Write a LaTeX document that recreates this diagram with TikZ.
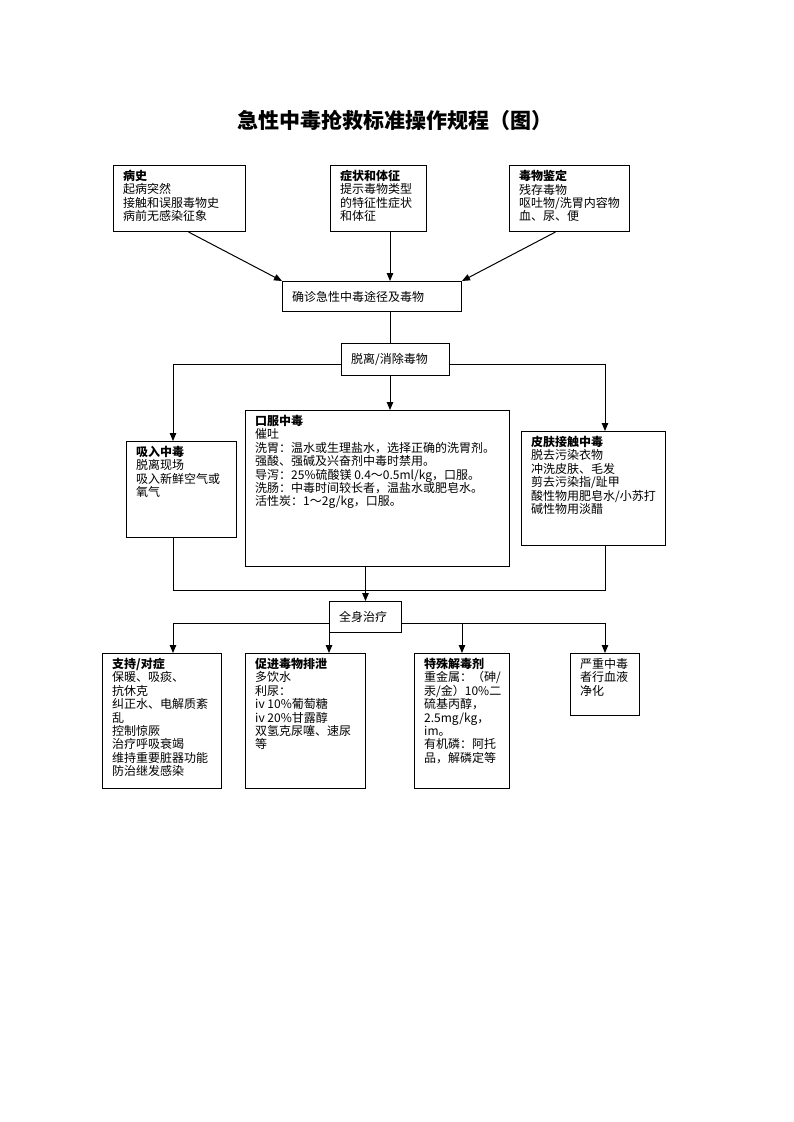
\documentclass[tikz,border=0pt]{standalone}
\usepackage{fontspec}
\setmainfont{Noto Sans CJK SC}
\usetikzlibrary{arrows.meta}

\begin{document}
\begin{tikzpicture}[x=1pt,y=-1pt]
    \tikzset{box/.style = {draw,line width=1pt,anchor=north west,inner sep=0pt},
             txt/.style = {anchor=north west,align=left,inner xsep=10pt,inner ysep=5pt,
                           font=\fontsize{12}{13.4}\selectfont},
             arr/.style = {line width=1pt,-{Triangle[length=8pt,width=6.5pt]}},
             wire/.style = {line width=1pt}}
    \useasboundingbox (0,0) rectangle (793,1122);

    % Title
    \node[font=\fontsize{21}{25}\selectfont\bfseries] (title) at (395,120)
        {急性中毒抢救标准操作规程（图）};

    % Diagnosis boxes
    \node[box,minimum width=132,minimum height=66,
          label={[txt,name=bingshi-t]north west:\textbf{病史}\\起病突然\\接触和误服毒物史\\病前无感染征象}]
        (bingshi) at (113,165) {};
    \node[box,minimum width=96,minimum height=66,
          label={[txt,name=zhengzhuang-t]north west:\textbf{症状和体征}\\提示毒物类型\\的特征性症状\\和体征}]
        (zhengzhuang) at (330,165) {};
    \node[box,minimum width=120,minimum height=66,
          label={[txt,name=jianding-t]north west:\textbf{毒物鉴定}\\残存毒物\\呕吐物/洗胃内容物\\血、尿、便}]
        (jianding) at (509,165) {};
    \node[box,minimum width=179,minimum height=30,
          label={[txt,anchor=west,name=quezhen-t]west:确诊急性中毒途径及毒物}]
        (quezhen) at (282,281) {};
    \node[box,minimum width=108,minimum height=32,
          label={[txt,anchor=west,name=tuoli-t]west:脱离/消除毒物}]
        (tuoli) at (341,343) {};

    % Routes of poisoning
    \node[box,minimum width=110,minimum height=96,
          label={[txt,name=xiru-t]north west:\textbf{吸入中毒}\\脱离现场\\吸入新鲜空气或\\氧气}]
        (xiru) at (126,441) {};
    \node[box,minimum width=264,minimum height=156,
          label={[txt,name=koufu-t]north west:\textbf{口服中毒}\\催吐\\洗胃：温水或生理盐水，选择正确的洗胃剂。\\强酸、强碱及兴奋剂中毒时禁用。\\导泻：25\%硫酸镁 0.4～0.5ml/kg，口服。\\洗肠：中毒时间较长者，温盐水或肥皂水。\\活性炭：1～2g/kg，口服。}]
        (koufu) at (245,410) {};
    \node[box,minimum width=144,minimum height=114,
          label={[txt,name=pifu-t]north west:\textbf{皮肤接触中毒}\\脱去污染衣物\\冲洗皮肤、毛发\\剪去污染指/趾甲\\酸性物用肥皂水/小苏打\\碱性物用淡醋}]
        (pifu) at (521,431) {};

    % Systemic treatment
    \node[box,minimum width=72,minimum height=31,
          label={[txt,anchor=west,name=quanshen-t]west:全身治疗}]
        (quanshen) at (329,601) {};
    \node[box,minimum width=119,minimum height=135,
          label={[txt,name=zhichi-t]north west:\textbf{支持/对症}\\保暖、吸痰、\\抗休克\\纠正水、电解质紊\\乱\\控制惊厥\\治疗呼吸衰竭\\维持重要脏器功能\\防治继发感染}]
        (zhichi) at (102,653) {};
    \node[box,minimum width=120,minimum height=135,
          label={[txt,name=cujin-t]north west:\textbf{促进毒物排泄}\\多饮水\\利尿：\\iv 10\%葡萄糖\\iv 20\%甘露醇\\双氢克尿噻、速尿\\等}]
        (cujin) at (245,653) {};
    \node[box,minimum width=95,minimum height=135,
          label={[txt,name=teshu-t]north west:\textbf{特殊解毒剂}\\重金属：（砷/\\汞/金）10\%二\\硫基丙醇，\\2.5mg/kg，\\im。\\有机磷：阿托\\品，解磷定等}]
        (teshu) at (414,653) {};
    \node[box,minimum width=69,minimum height=62,
          label={[txt,name=yanzhong-t]north west:严重中毒\\者行血液\\净化}]
        (yanzhong) at (570,653) {};

    % Columns and buses
    \coordinate (mid) at (390,0);
    \coordinate (lc) at (173,0);
    \coordinate (rc) at (605,0);
    \coordinate (join) at (0,590);
    \coordinate (bus1) at ([yshift=-5pt]tuoli.west);
    \coordinate (bus2) at ([yshift=-6pt]quanshen.west);

    % Edges
    \draw[arr] ([xshift=9pt]bingshi.south) -- (quezhen.north west);
    \draw[arr] (zhengzhuang.south -| mid) -- (quezhen.north -| mid);
    \draw[arr] ([xshift=-14pt]jianding.south) -- (quezhen.north east);
    \draw[wire] (quezhen.south -| mid) -- (tuoli.north -| mid);

    \draw[arr] (bus1) -| (lc |- xiru.north);
    \draw[arr] (bus1 -| tuoli.east) -| (rc |- pifu.north);
    \draw[arr] (tuoli.south -| mid) -- (koufu.north -| mid);

    \draw[wire] (lc |- xiru.south) -- (lc |- join) -- (rc |- join) -- (rc |- pifu.south);
    \draw[arr] (koufu.south -| quanshen.north) -- (quanshen.north);

    \draw[arr] (bus2) -| (lc |- zhichi.north);
    \draw[arr] (quanshen.south west) -- (quanshen.south west |- cujin.north);
    \draw[wire] (bus2 -| quanshen.east) -- (bus2 -| rc);
    \foreach \target in {teshu, yanzhong}
        \draw[arr] (bus2 -| \target.north) -- (\target.north);
\end{tikzpicture}
\end{document}
